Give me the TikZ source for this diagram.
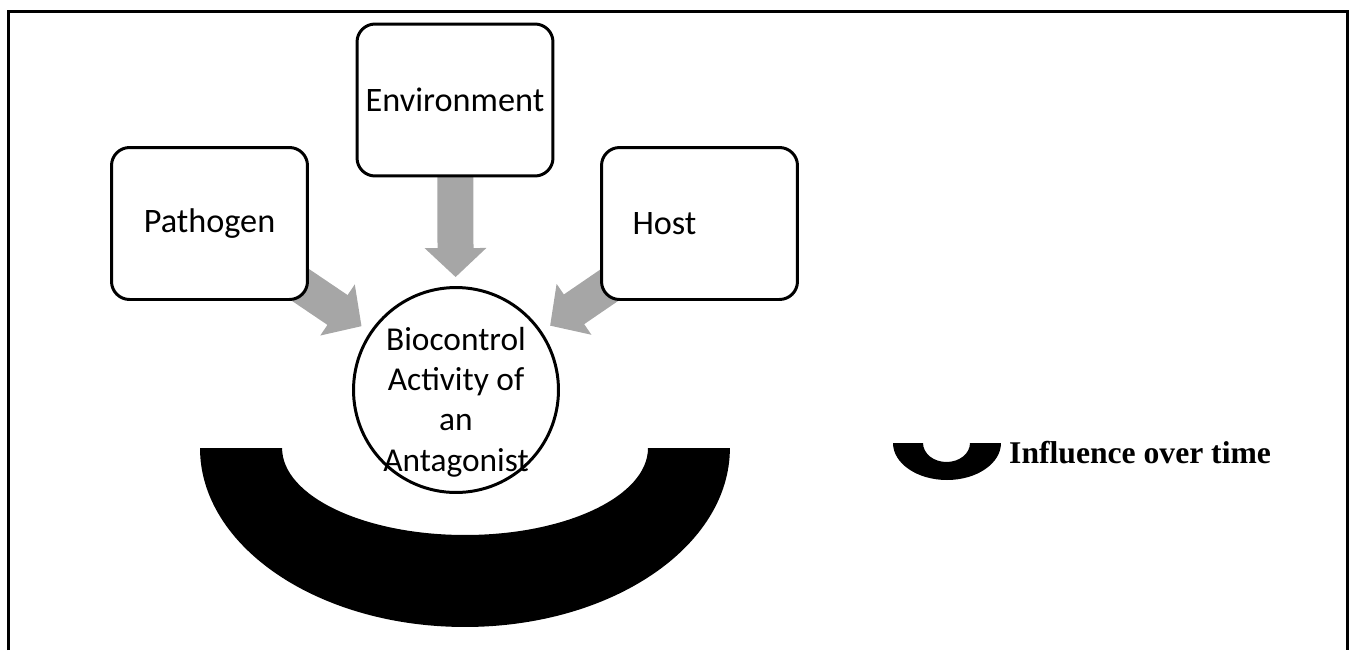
\documentclass[tikz,border=0pt]{standalone}
\usepackage{fontspec}
\setmainfont{Carlito}
\newfontfamily\legendfont{Liberation Serif}
\usetikzlibrary{arrows.meta,backgrounds}
\definecolor{flowgray}{RGB}{166,166,166}

\begin{document}
\begin{tikzpicture}[x=0.02cm,y=-0.02cm,
  factor/.style={draw,line width=1.7pt,rounded corners=0.36cm,fill=white,
    minimum width=3.92cm,minimum height=3.04cm,font=\fontsize{19.5}{23}\selectfont},
  hub/.style={draw,circle,line width=1.7pt,minimum size=4.1cm,fill=white},
  flow/.style={flowgray,line width=0.72cm,-{Triangle[width=1.2cm,length=0.58cm]}}]
  \useasboundingbox (0,0) rectangle (1349,650);
  % frame, open at the bottom
  \draw[line width=1.7pt] (8.5,650) -- (8.5,11.5) -- (1347,11.5) -- (1347,650);
  \node[factor] (pathogen) at (209.5,223.5) {Pathogen};
  \node[factor] (env) at (455,100) {Environment};
  \node[factor] (host) at (699.5,223.5) {Host\hspace*{1.4cm}};
  \node[hub] (bio) at (456,390) {};
  \node[align=center,font=\fontsize{19}{23}\selectfont] (biotext) at (456,402)
    {Biocontrol\\Activity of\\an\\Antagonist};
  \begin{scope}[on background layer]
    \draw[flow,shorten >=5.1pt] (env.center) -- (bio);
    \draw[flow,shorten >=5.7pt] (pathogen.center) -- (bio);
    \draw[flow,shorten >=5.7pt] (host.center) -- (bio);
  \end{scope}
  % influence band
  \fill (200,448) arc[start angle=180,end angle=360,x radius=5.3cm,y radius=3.58cm]
    -- (648,448) arc[start angle=0,end angle=-180,x radius=3.66cm,y radius=1.74cm] -- cycle;
  % legend
  \fill (893,443) arc[start angle=180,end angle=360,x radius=1.08cm,y radius=0.74cm]
    -- (970,443) arc[start angle=0,end angle=-180,x radius=0.47cm,y radius=0.38cm] -- cycle;
  \node[anchor=west,font=\legendfont\bfseries\fontsize{18}{22}\selectfont] (legendtext)
    at (1003,453) {Influence over time};
\end{tikzpicture}
\end{document}
